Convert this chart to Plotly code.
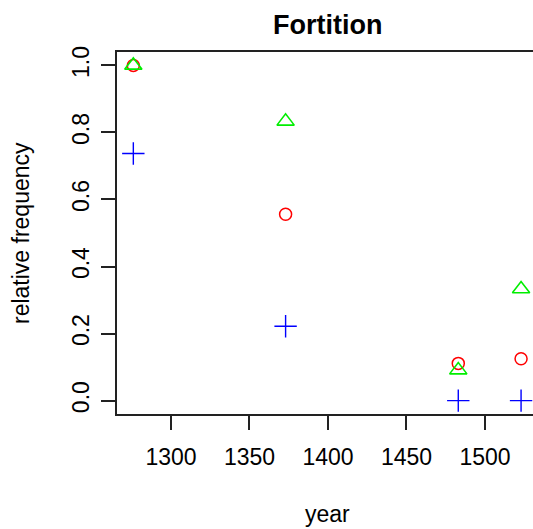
import plotly.graph_objects as go

years = [1276, 1373, 1483, 1523]
series_circle = [1.0, 0.556, 0.111, 0.125]
series_triangle = [1.0, 0.833, 0.0909, 0.333]
series_plus = [0.737, 0.222, 0.0, 0.0]

x_ticks = [1300, 1350, 1400, 1450, 1500]
y_ticks = [0.0, 0.2, 0.4, 0.6, 0.8, 1.0]
y_ticklabels = ["0.0", "0.2", "0.4", "0.6", "0.8", "1.0"]

W, H = 533, 529
L, R, T, B = 117, 0, 52, 115
FONT = "Liberation Sans, Arial, Helvetica, sans-serif"

fig = go.Figure()
fig.add_trace(go.Scatter(x=years, y=series_plus, mode="markers",
                         marker=dict(symbol="cross-thin-open", size=16, color="#0000FF",
                                     line=dict(width=1.4, color="#0000FF"))))
fig.add_trace(go.Scatter(x=years, y=series_circle, mode="markers",
                         marker=dict(symbol="circle-open", size=12, color="#FF0000",
                                     line=dict(width=1.5, color="#FF0000"))))
fig.add_trace(go.Scatter(x=years, y=series_triangle, mode="markers",
                         marker=dict(symbol="triangle-up-open", size=15, color="#00EE00",
                                     line=dict(width=1.6, color="#00EE00"))))

pw = W - L - R
ph = H - T - B

def px_x(p):
    return (p - L) / pw

def px_y(p):
    return (H - B - p) / ph

fig.update_layout(
    width=W, height=H,
    margin=dict(l=L, r=R, t=T, b=B),
    paper_bgcolor="white", plot_bgcolor="white",
    showlegend=False,
    font=dict(family=FONT, size=23, color="black"),
    xaxis=dict(range=[1265.6, 1530.6], tickvals=x_ticks, ticktext=[str(v) for v in x_ticks],
               showgrid=False, zeroline=False, showline=True, mirror=True,
               linecolor="#222222", linewidth=1.5, ticks="outside", ticklen=14,
               tickwidth=1.5, tickcolor="#222222", tickfont=dict(size=23),
               ticklabelstandoff=8),
    yaxis=dict(range=[-0.04, 1.04], tickvals=y_ticks, ticktext=y_ticklabels,
               showgrid=False, zeroline=False, showline=True, mirror=False,
               linecolor="#222222", linewidth=1.5, ticks="outside", ticklen=14,
               tickwidth=1.5, tickcolor="#222222", tickangle=-90, tickfont=dict(size=23),
               ticklabelstandoff=3),
    annotations=[
        dict(text="<b>Fortition</b>", xref="paper", yref="paper", x=px_x(327.7), y=px_y(25),
             xanchor="center", yanchor="middle", showarrow=False, font=dict(size=27)),
        dict(text="year", xref="paper", yref="paper", x=px_x(327.5), y=px_y(514),
             xanchor="center", yanchor="middle", showarrow=False, font=dict(size=23)),
        dict(text="relative frequency", xref="paper", yref="paper", x=px_x(21), y=px_y(233),
             xanchor="center", yanchor="middle", showarrow=False, textangle=-90,
             font=dict(size=23)),
    ],
)

fig.write_html("out.html")
